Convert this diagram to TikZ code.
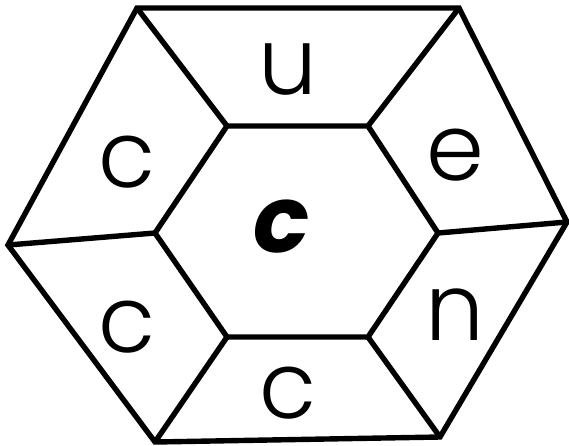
\documentclass[tikz,border=0pt]{standalone}
\usepackage{fontspec}
\setmainfont{Poppins Light}
\newfontfamily\boldf{Poppins}[UprightFont=* Bold Italic]
\begin{document}
\begin{tikzpicture}[x=1pt,y=-1pt,
  edge/.style={draw=black,line width=5.4pt,line join=miter,line cap=butt},
  lab/.style={inner sep=0pt,anchor=center,font=\fontsize{93}{93}\selectfont},
  blab/.style={inner sep=0pt,anchor=center,font=\fontsize{93}{93}\boldf}]
\useasboundingbox (0,0) rectangle (569,445);
% outer hexagon
\coordinate (O1) at (137,8);
\coordinate (O2) at (459,8);
\coordinate (O3) at (567,222);
\coordinate (O4) at (440,437);
\coordinate (O5) at (155,442);
\coordinate (O6) at (8,245);
% inner hexagon
\coordinate (I1) at (227,126);
\coordinate (I2) at (368,126);
\coordinate (I3) at (438,233);
\coordinate (I4) at (368,337);
\coordinate (I5) at (227,337);
\coordinate (I6) at (155,233);
\draw[edge] (O1) -- (O2) -- (O3) -- (O4) -- (O5) -- (O6) -- cycle;
\draw[edge] (I1) -- (I2) -- (I3) -- (I4) -- (I5) -- (I6) -- cycle;
\draw[edge] (O1) -- (I1);
\draw[edge] (O2) -- (I2);
\draw[edge] (O3) -- (I3);
\draw[edge] (O4) -- (I4);
\draw[edge] (O5) -- (I5);
\draw[edge] (O6) -- (I6);
% labels
\node[lab] (tu) at (288,70) {u};
\node[lab] (te) at (455,155) {e};
\node[lab] (tn) at (455,315) {n};
\node[lab] (tcb) at (288,393) {c};
\node[lab] (tcl2) at (127,327) {c};
\node[lab] (tcl1) at (127,162) {c};
\node[blab] (tc) at (282,227) {c};
\end{tikzpicture}
\end{document}
